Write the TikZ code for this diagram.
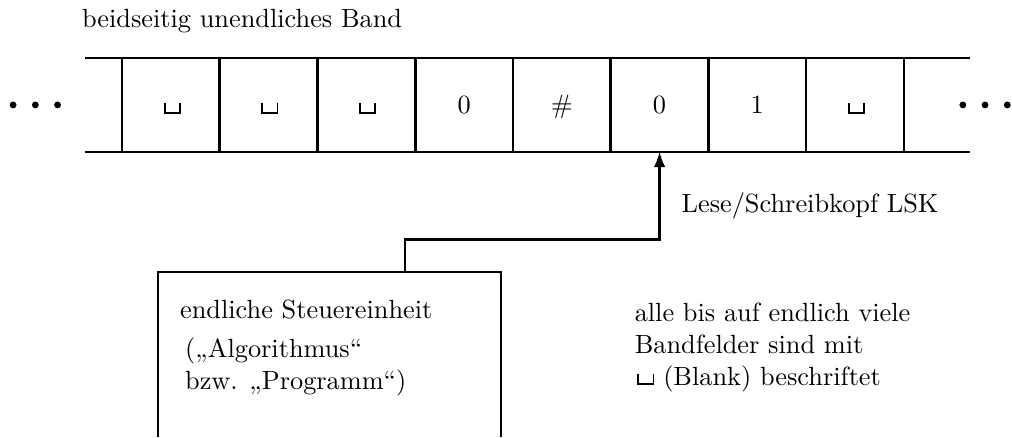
\documentclass[tikz,border=0pt]{standalone}
\usepackage{tikz}
\usetikzlibrary{arrows, positioning, calc}

% blank symbol of the tape alphabet
\newcommand{\blanksym}{\leavevmode\kern1pt\hbox{\vrule width 0.75pt height 4.2pt
	\vrule width 5pt height 0.75pt\vrule width 0.75pt height 4.2pt}}

\begin{document}
\begin{tikzpicture}[node distance=0pt,
	cell/.style={draw, line width=1pt, minimum width=37.15pt, minimum height=35.7pt,
		text height=6.8pt, text depth=0pt, inner sep=0pt, outer sep=0pt},
	note/.style={inner sep=0pt, outer sep=0pt, align=left},
	head/.style={-latex, line width=1pt}]
	\useasboundingbox (0,0) rectangle (13.52,-5.84);
	% tape cells
	\node[cell] (c1) at (2.283,-1.402) {\blanksym};
	\node[cell, right=of c1] (c2) {\blanksym};
	\node[cell, right=of c2] (c3) {\blanksym};
	\node[cell, right=of c3] (c4) {0};
	\node[cell, right=of c4] (c5) {\#};
	\node[cell, right=of c5] (c6) {0};
	\node[cell, right=of c6] (c7) {1};
	\node[cell, right=of c7] (c8) {\blanksym};
	% open ends of the tape
	\coordinate[left=14.1pt of c1] (bandL);
	\coordinate[right=25.1pt of c8] (bandR);
	\draw[line width=1pt] (bandL |- c1.north) -- (bandR |- c8.north);
	\draw[line width=1pt] (bandL |- c1.south) -- (bandR |- c8.south);
	\coordinate[left=41.4pt of c1] (dotsL);
	\coordinate[right=22.4pt of c8] (dotsR);
	\foreach \k in {0,1,2} {
		\fill ([xshift=\k*8.45pt]dotsL) circle (1.3pt);
		\fill ([xshift=\k*8.45pt]dotsR) circle (1.3pt);
	}
	\coordinate (bandNW) at (bandL |- c1.north);
	\node[note, anchor=base west] (bandlabel) at ([xshift=-1.1pt, yshift=11.4pt]bandNW) {beidseitig unendliches Band};
	% control unit
	\node[minimum width=130.3pt, minimum height=62.7pt, outer sep=0pt,
		below right=45.6pt and 13.7pt of c1.south west] (ctrl) {};
	\draw[line width=1pt] (ctrl.south west) -- (ctrl.north west) -- (ctrl.north east) -- (ctrl.south east);
	\node[note, below right=10.5pt and 8.4pt of ctrl.north west] (ctrltitle) {endliche Steuereinheit};
	\node[note, below right=25.2pt and 10.3pt of ctrl.north west] (ctrlsub) {(„Algorithmus“\\bzw. „Programm“)};
	\node[note, below right=12pt and 50.9pt of ctrl.north east] (hint)
		{alle bis auf endlich viele\\Bandfelder sind mit\\\blanksym\ (Blank) beschriftet};
	% read/write head
	\coordinate[right=93.9pt of ctrl.north west] (port);
	\coordinate[below=33.4pt of c6.south] (bend);
	\draw[head] (port) |- (bend) -- node[note, pos=0.307, anchor=base west, xshift=8.4pt] (lsk) {Lese/Schreibkopf LSK} (c6.south);
\end{tikzpicture}
\end{document}
